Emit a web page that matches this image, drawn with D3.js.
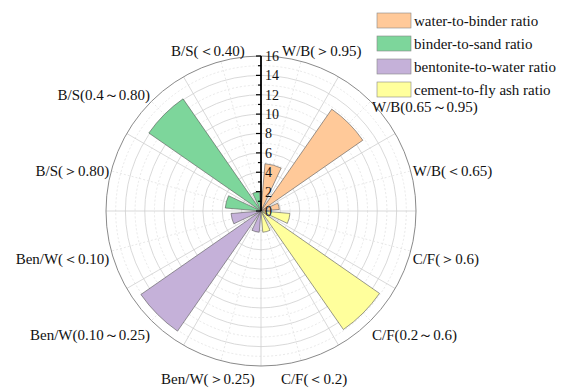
<!DOCTYPE html>
<html>
<head>
<meta charset="utf-8">
<script src="https://cdn.jsdelivr.net/npm/d3@7"></script>
<style>
  body { margin: 0; background: #fff; }
  svg text { font-family: "Liberation Serif", "Times New Roman", serif; fill: #111; }
</style>
</head>
<body>
<svg id="chart" width="563" height="388"></svg>
<script>
// categories clockwise from 12 o'clock
var categories = ["W/B(＞0.95)", "W/B(0.65～0.95)", "W/B(＜0.65)",
                  "C/F(＞0.6)", "C/F(0.2～0.6)", "C/F(＜0.2)",
                  "Ben/W(＞0.25)", "Ben/W(0.10～0.25)", "Ben/W(＜0.10)",
                  "B/S(＞0.80)", "B/S(0.4～0.80)", "B/S(＜0.40)"]
var values = [4.9, 12.8, 1.9, 3.0, 14.9, 2.2, 2.2, 15.1, 3.1, 3.7, 14.1, 2.0]
var groupOf = [0, 0, 0, 1, 1, 1, 2, 2, 2, 3, 3, 3]
var seriesNames = ["water-to-binder ratio", "binder-to-sand ratio", "bentonite-to-water ratio", "cement-to-fly ash ratio"]
var seriesColors = ["#ffc999", "#7dd69b", "#c5b1d9", "#ffff9c"]
// colour index of each group (legend order differs from the angular order)
var groupColor = [0, 3, 2, 1]
var radialTicks = d3.range(0, 17, 2)

var cx = 261, cy = 211, R = 155

var svg = d3.select("#chart")
var g = svg.append("g").attr("transform", "translate(" + cx + "," + cy + ")")

var r = d3.scaleLinear().domain([0, 16]).range([0, R])
var angle = d3.scaleBand().domain(categories).range([0, 2 * Math.PI])
  .paddingInner(0.32).paddingOuter(0.16)

// circular grid
g.selectAll(".ring").data(d3.range(1, 16)).enter().append("circle")
  .attr("r", d => r(d))
  .attr("fill", "none")
  .attr("stroke", d => d % 2 ? "#e2e2e2" : "#cfcfcf")
  .attr("stroke-width", 0.8)
  .attr("stroke-dasharray", d => d % 2 ? "2,2" : null)

// spokes
var step = 2 * Math.PI / categories.length
g.selectAll(".spoke").data(d3.range(0, 24)).enter().append("line")
  .attr("x1", 0).attr("y1", 0)
  .attr("x2", d => R * Math.sin(d * step / 2))
  .attr("y2", d => -R * Math.cos(d * step / 2))
  .attr("stroke", d => d % 2 ? "#e2e2e2" : "#cfcfcf")
  .attr("stroke-width", 0.8)
  .attr("stroke-dasharray", d => d % 2 ? "2,2" : null)

g.append("circle").attr("r", R).attr("fill", "none")
  .attr("stroke", "#8a8a8a").attr("stroke-width", 1)

// bars
var arc = d3.arc()
  .innerRadius(0)
  .outerRadius(d => r(d.v))
  .startAngle(d => angle(d.c))
  .endAngle(d => angle(d.c) + angle.bandwidth())

var barData = categories.map((c, i) => ({ c: c, v: values[i], s: groupColor[groupOf[i]] }))
g.selectAll(".bar").data(barData).enter().append("path")
  .attr("d", arc)
  .attr("fill", d => seriesColors[d.s])
  .attr("stroke", "#555")
  .attr("stroke-width", 0.6)

// radial axis
var axis = g.append("g")
axis.append("line").attr("x1", 0).attr("x2", 0).attr("y1", 0).attr("y2", -r(16))
  .attr("stroke", "#000").attr("stroke-width", 1.8)
axis.selectAll(".tick").data(d3.range(0, 17)).enter().append("line")
  .attr("x1", d => d % 2 ? -3 : -5).attr("x2", 0)
  .attr("y1", d => -r(d)).attr("y2", d => -r(d))
  .attr("stroke", "#000").attr("stroke-width", 1.2)
axis.selectAll(".tl").data(radialTicks).enter().append("text")
  .attr("x", 4).attr("y", d => -r(d))
  .attr("dy", "0.35em")
  .style("font-size", "14px")
  .text(d => d)

// legend
var legendX = 377, legendY = 13, rowH = 23
var legend = svg.append("g").attr("transform", "translate(" + legendX + "," + legendY + ")")
var rows = legend.selectAll(".row").data(seriesNames).enter().append("g")
  .attr("transform", (d, i) => "translate(0," + i * rowH + ")")
rows.append("rect").attr("width", 34).attr("height", 15)
  .attr("fill", (d, i) => seriesColors[i])
  .attr("stroke", "#888").attr("stroke-width", 0.6)
rows.append("text").attr("x", 37).attr("y", 7.5).attr("dy", "0.35em")
  .style("font-size", "15px")
  .text(d => d)
var legendBottom = legendY + (seriesNames.length - 1) * rowH + 15 - cy

// category labels
var labels = g.selectAll(".lab").data(categories).enter().append("text")
  .style("font-size", "15px")
  .attr("dy", "0.35em")
  .text(d => d)
labels.each(function (d) {
  var a = angle(d) + angle.bandwidth() / 2
  var w = this.getComputedTextLength()
  var s = Math.sin(a), c = Math.cos(a)
  var x, y = -170 * c + 4, left
  if (Math.abs(s) > 0.5) {
    x = 157 * s
    left = s > 0 ? x : x - w
  } else {
    left = 205 * s - w / 2
  }
  // keep clear of the radial axis labels
  if (s > 0 && c > 0.9 && left < 21) left = 21
  // keep clear of the legend
  if (left + w > legendX - cx && y - 8 < legendBottom + 3) y = legendBottom + 10
  d3.select(this).attr("x", left).attr("y", y)
})
</script>
</body>
</html>
